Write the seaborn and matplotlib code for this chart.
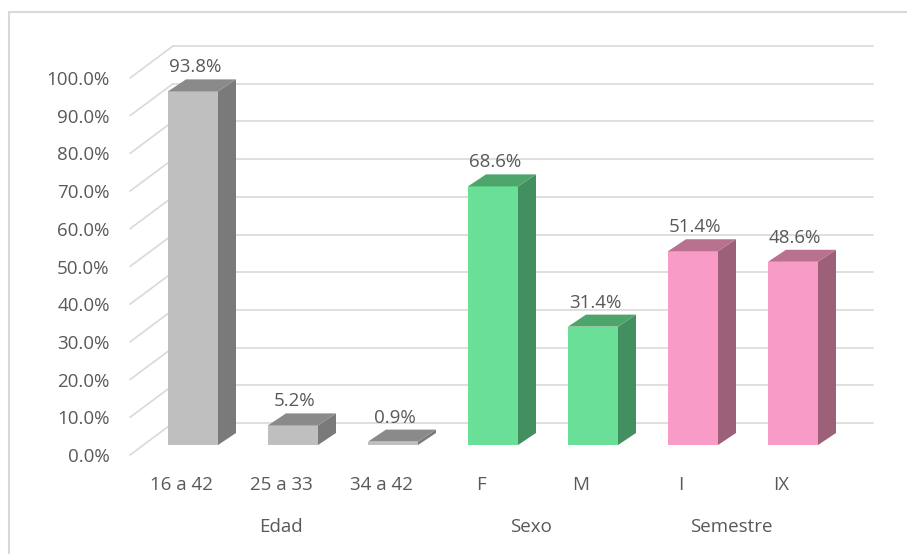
import matplotlib
matplotlib.use("Agg")
import matplotlib.pyplot as plt
import matplotlib.transforms as mtransforms
from matplotlib.patches import Polygon, Rectangle
import seaborn as sns
import pandas as pd

# ── data ─────────────────────────────────────────────
categorias = ["16 a 42", "25 a 33", "34 a 42", "F", "M", "I", "IX"]
porcentajes = [93.8, 5.2, 0.9, 68.6, 31.4, 51.4, 48.6]
grupos = ["Edad", "Edad", "Edad", "Sexo", "Sexo", "Semestre", "Semestre"]
grupo_nombres = ["Edad", "Sexo", "Semestre"]
yticks = [0, 10, 20, 30, 40, 50, 60, 70, 80, 90, 100]

# colours: front / side / top for each group
FRONT = {"Edad": "#BFBFBF", "Sexo": "#69DF97", "Semestre": "#F89BC6"}
SIDE = {"Edad": "#7A7A7A", "Sexo": "#438F5F", "Semestre": "#9C6079"}
TOP = {"Edad": "#8A8A8A", "Sexo": "#4DA56C", "Semestre": "#B8728F"}
TXT = "#595959"
GRID = "#D9D9D9"

df = pd.DataFrame({"cat": categorias, "val": porcentajes, "grupo": grupos})

sns.set_theme(style="white")
plt.rcParams["font.family"] = ["Open Sans", "DejaVu Sans"]

W, H = 907, 554
fig = plt.figure(figsize=(W / 100, H / 100), dpi=100)
# front plane of the bars: x 143..843 px, y(0)=445 px, y(100)=68 px
ax = fig.add_axes([143 / W, (H - 445) / H, 700 / W, 377 / H])

sns.barplot(data=df, x="cat", y="val", hue="cat",
            palette=[FRONT[g] for g in grupos], width=0.5, saturation=1,
            legend=False, ax=ax, zorder=3, linewidth=0)
ax.set_xlim(-0.5, len(categorias) - 0.5)
ax.set_ylim(0, 100)
for s in ax.spines.values():
    s.set_visible(False)
ax.set_xlabel("")
ax.set_ylabel("")

# pixel -> data unit conversion on the bar plane
px_x = 1 / 100.0
px_y = 100 / 377.0

def off(dx, dy):
    return mtransforms.ScaledTranslation(dx / 100, dy / 100, fig.dpi_scale_trans)

# back wall gridlines and left floor diagonals
wall_dx, wall_dy = 30, 22
lab_dx, lab_dy = -13, -10
x0, x1 = ax.get_xlim()
for t in yticks:
    ax.plot([x0, x1], [t, t], color=GRID, lw=1.2, zorder=0, clip_on=False,
            transform=ax.transData + off(wall_dx, wall_dy))
    ax.plot([x0 + lab_dx * px_x, x0 + wall_dx * px_x],
            [t + lab_dy * px_y, t + wall_dy * px_y],
            color=GRID, lw=1.2, zorder=0, clip_on=False)

# 3D side/top faces and value labels
dx, dy = 18 * px_x, 12 * px_y
for patch, val, g in zip(ax.patches, porcentajes, grupos):
    xl = patch.get_x()
    xr = xl + patch.get_width()
    top = patch.get_height()
    side = Polygon([(xr, 0), (xr + dx, dy), (xr + dx, top + dy), (xr, top)],
                   closed=True, facecolor=SIDE[g], edgecolor="none",
                   zorder=3, clip_on=False)
    cap = Polygon([(xl, top), (xl + dx, top + dy), (xr + dx, top + dy), (xr, top)],
                  closed=True, facecolor=TOP[g], edgecolor="none",
                  zorder=3, clip_on=False)
    ax.add_patch(side)
    ax.add_patch(cap)
    ax.text((xl + xr) / 2, top, f"{val:.1f}%", ha="center", va="bottom",
            fontsize=13.5, color=TXT, zorder=5,
            transform=ax.transData + off(2, 15))

# tick labels on the front (label) plane
ax.set_yticks(yticks)
ax.set_yticklabels([f"{t:.1f}%" for t in yticks], fontsize=13.5, color=TXT)
ax.tick_params(axis="y", length=0, pad=24)
for lbl in ax.get_yticklabels():
    lbl.set_transform(lbl.get_transform() + off(0, lab_dy))
ax.set_xticks(range(len(categorias)))
ax.set_xticklabels(categorias, fontsize=13.5, color=TXT)
ax.tick_params(axis="x", length=0, pad=22)
for lbl in ax.get_xticklabels():
    lbl.set_transform(lbl.get_transform() + off(-12, 0))

# group labels
for nombre in grupo_nombres:
    idx = [i for i, g in enumerate(grupos) if g == nombre]
    xc = sum(idx) / len(idx)
    ax.text(xc, 0, nombre, ha="center", va="center", fontsize=13.5, color=TXT,
            transform=ax.transData + off(-12, -82), clip_on=False)

# outer chart border
fig.patches.append(Rectangle((9 / W, -0.1), 1.2, (H - 12) / H + 0.1,
                             transform=fig.transFigure, fill=False,
                             edgecolor=GRID, lw=1.5))

fig.savefig("out.png", dpi=100)
